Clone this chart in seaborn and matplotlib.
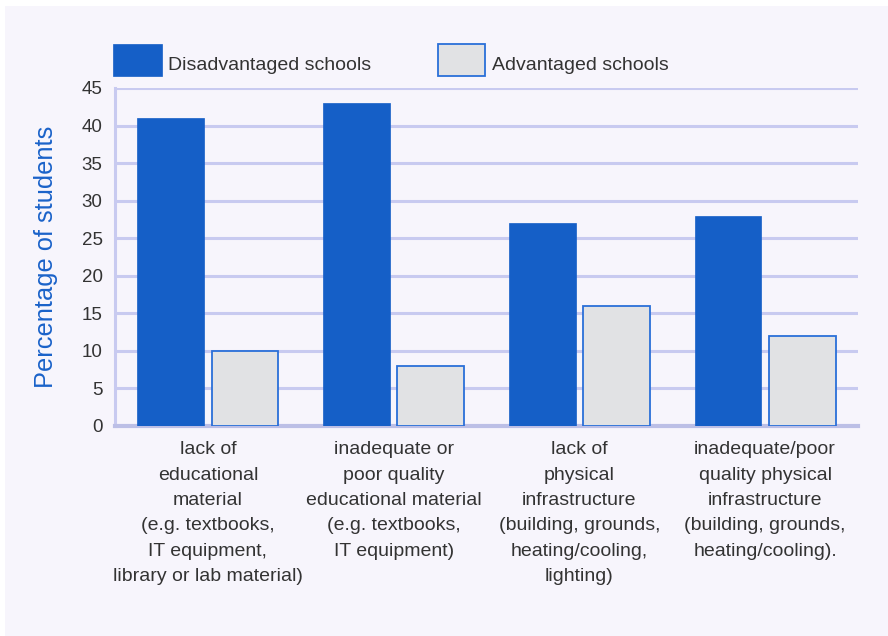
import matplotlib
matplotlib.use("Agg")
import matplotlib.pyplot as plt
from matplotlib.patches import Rectangle
import seaborn as sns
import pandas as pd

categories = [
    "lack of\neducational\nmaterial\n(e.g. textbooks,\nIT equipment,\nlibrary or lab material)",
    "inadequate or\npoor quality\neducational material\n(e.g. textbooks,\nIT equipment)",
    "lack of\nphysical\ninfrastructure\n(building, grounds,\nheating/cooling,\nlighting)",
    "inadequate/poor\nquality physical\ninfrastructure\n(building, grounds,\nheating/cooling).",
]
disadvantaged = [41, 43, 27, 28]
advantaged = [10, 8, 16, 12]
series_names = ["Disadvantaged schools", "Advantaged schools"]
y_ticks = [0, 5, 10, 15, 20, 25, 30, 35, 40, 45]

BLUE = "#155fc7"
GREY = "#e1e2e4"
EDGE = "#2a6fd8"
PANEL = "#f7f5fc"
GRID = "#c8caf0"
TEXT = "#333333"

W, H = 888, 636

df = pd.DataFrame({
    "category": categories * 2,
    "school": [series_names[0]] * 4 + [series_names[1]] * 4,
    "value": disadvantaged + advantaged,
})

sns.set_theme(style="white")
plt.rcParams["font.family"] = ["Liberation Sans", "DejaVu Sans"]

fig = plt.figure(figsize=(W / 100, H / 100), dpi=100, facecolor="white")
fig.patches.append(Rectangle((5 / W, 0), 1, 1 - 6 / H, transform=fig.transFigure,
                             facecolor=PANEL, edgecolor="none", zorder=-10))
ax = fig.add_axes([115 / W, 1 - 426 / H, (858 - 115) / W, (426 - 88) / H])
ax.set_facecolor(PANEL)

sns.barplot(data=df, x="category", y="value", hue="school",
            hue_order=series_names, palette=[BLUE, GREY], saturation=1,
            width=0.8, gap=0.1, ax=ax, legend=False, zorder=3)

for bar in ax.patches[4:8]:
    bar.set_edgecolor(EDGE)
    bar.set_linewidth(1.3)
for bar in ax.patches[:4]:
    bar.set_edgecolor(BLUE)
    bar.set_linewidth(0.5)

ax.set_xlim(-0.5, 3.5)
ax.set_ylim(0, 45)
ax.set_yticks(y_ticks)
ax.yaxis.grid(True, color=GRID, linewidth=2.2, zorder=0)
ax.set_axisbelow(True)

for side in ["top", "right"]:
    ax.spines[side].set_visible(False)
ax.spines["left"].set_color(GRID)
ax.spines["left"].set_linewidth(2.2)
ax.spines["bottom"].set_color("#bcbfe6")
ax.spines["bottom"].set_linewidth(3)

ax.tick_params(axis="y", length=0, pad=9, labelsize=13.5, labelcolor=TEXT)
ax.tick_params(axis="x", length=0, pad=11, labelsize=14, labelcolor=TEXT)
for lbl in ax.get_xticklabels():
    lbl.set_linespacing(1.64)

# short upward ticks at category boundaries
ax.set_xticks([-0.5, 0.5, 1.5, 2.5, 3.5], minor=True)
ax.tick_params(axis="x", which="minor", direction="in", length=8, width=2.2, color=GRID)

ax.set_xlabel("")
ax.set_ylabel("Percentage of students", fontsize=18.3, color="#1a62c9", labelpad=17)

# legend swatches and labels across the top
swatches = [
    (113, 162, BLUE, BLUE, 0.5, 168),
    (438, 485, GREY, EDGE, 1.3, 492),
]
for (x0, x1, fc, ec, lw, tx), name in zip(swatches, series_names):
    fig.patches.append(Rectangle((x0 / W, 1 - 76 / H), (x1 - x0) / W, 32 / H,
                                 transform=fig.transFigure, facecolor=fc,
                                 edgecolor=ec, linewidth=lw))
    fig.text(tx / W, 1 - 65 / H, name, fontsize=14, color=TEXT,
             ha="left", va="center")

fig.savefig("out.png", dpi=100, facecolor="white")
